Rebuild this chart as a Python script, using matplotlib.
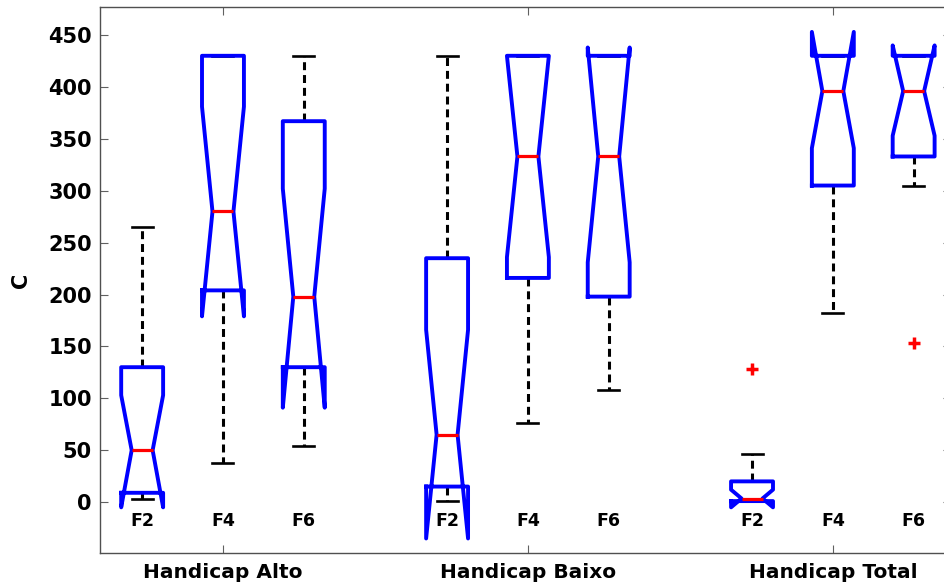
import matplotlib
matplotlib.use('Agg')
import matplotlib.pyplot as plt

# summary statistics per box, group order: Alto, Baixo, Total; within group: F2, F4, F6
groups = ['Handicap Alto', 'Handicap Baixo', 'Handicap Total']
factors = ['F2', 'F4', 'F6']

whislo = [3, 38, 54, 1, 76, 108, 1, 182, 305]
q1 = [9, 204, 130, 15, 216, 198, 1, 305, 333]
med = [50, 280, 198, 65, 333, 333, 3.5, 396, 396]
q3 = [130, 430, 367, 235, 430, 430, 20, 430, 430]
whishi = [265, 430, 430, 430, 430, 430, 46, 430, 430]
cilo = [-5, 179, 91, -35, 236, 231, -5, 341, 353]
cihi = [103, 381, 302, 166, 430, 438, 12, 453, 440]
fliers = [[], [], [], [], [], [], [128], [], [153]]

group_centers = [2, 6, 10]
offset = 1.06
positions = [c + d for c in group_centers for d in (-offset, 0, offset)]

stats = []
for i in range(len(positions)):
    stats.append(dict(whislo=whislo[i], q1=q1[i], med=med[i], q3=q3[i],
                      whishi=whishi[i], cilo=cilo[i], cihi=cihi[i],
                      fliers=fliers[i]))

fig = plt.figure(figsize=(9.45, 5.87), dpi=100)
# axes run slightly past the right edge of the figure
ax = fig.add_axes([100 / 945, 34 / 587, 851 / 945, 546 / 587])

# boxes sit above the caps so a cap at the box edge is hidden
ax.bxp(stats, positions=positions, widths=0.55, shownotches=True,
       boxprops=dict(color='#0000ff', linewidth=2.8, zorder=3),
       whiskerprops=dict(color='black', linewidth=2.2, linestyle=(0, (2.6, 1.6)),
                         zorder=2),
       capprops=dict(color='black', linewidth=1.9, zorder=2),
       medianprops=dict(color='#ff0000', linewidth=2.3, zorder=4),
       flierprops=dict(marker='+', markeredgecolor='#ff0000', markersize=8,
                       markeredgewidth=2.5, linestyle='none'),
       manage_ticks=False)

# factor labels under each box
for i, p in enumerate(positions):
    ax.text(p, -18, factors[i % 3], ha='center', va='center',
            fontsize=12.5, fontweight='bold')

ax.set_xlim(0.387, 11.55)
ax.set_ylim(-49, 477)
ax.set_yticks(range(0, 451, 50))
ax.set_xticks(group_centers)
ax.set_xticklabels(groups, fontsize=14.5, fontweight='bold')
for lab in ax.get_yticklabels():
    lab.set_fontsize(15)
    lab.set_fontweight('bold')

ax.tick_params(axis='both', direction='in', top=True, right=True,
               length=6, width=0.8, color='#606060')
ax.tick_params(axis='y', pad=5.8)
ax.tick_params(axis='x', pad=7)

for s in ax.spines.values():
    s.set_color('#505050')
    s.set_linewidth(1.0)

ax.set_ylabel('C', fontsize=15, fontweight='bold')
ax.yaxis.set_label_coords(-0.081, 0.5)

fig.savefig('out.png', dpi=100)
